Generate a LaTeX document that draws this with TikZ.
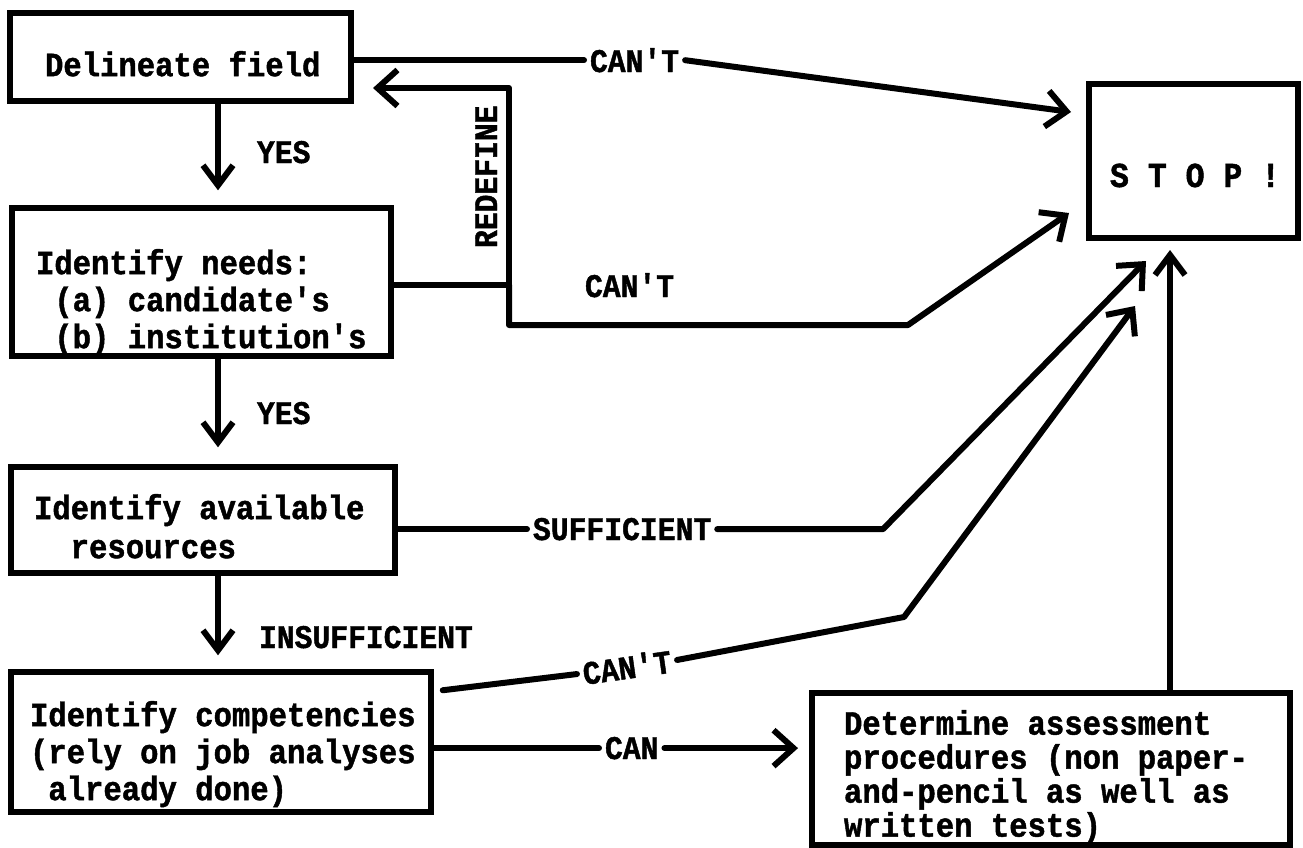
\documentclass[tikz,border=0pt]{standalone}
\usepackage{fontspec}
\newfontfamily\tw{Liberation Mono}[FakeStretch=0.9, BoldFeatures={FakeBold=1.3}]
\usetikzlibrary{arrows.meta,calc}
\begin{document}
\begin{tikzpicture}[x=1pt,y=-1pt,
  box/.style={draw, line width=5.5pt, rectangle, inner sep=0pt},
  txt/.style={inner sep=0pt, outer sep=0pt, anchor=north west, align=left,
    font=\tw\bfseries\fontsize{34}{37}\selectfont},
  lab/.style={inner sep=0pt, outer sep=0pt, anchor=base west,
    font=\tw\bfseries\fontsize{33}{36}\selectfont},
  clab/.style={lab, outer sep=6pt},
  conn/.style={line width=6pt, line cap=round, line join=round},
  arr/.style={conn, -{Straight Barb[length=20pt, width=36pt]}},
  varr/.style={conn, -{Straight Barb[length=20pt, width=30pt]}},
]
\useasboundingbox (0,0) rectangle (1303,847);

% boxes
\node[box, minimum width=341pt, minimum height=88pt]  (b1) at (180.5,57) {};
\node[box, minimum width=379pt, minimum height=148pt] (b2) at (201.5,282) {};
\node[box, minimum width=384pt, minimum height=106pt] (b3) at (203,520) {};
\node[box, minimum width=420pt, minimum height=140pt] (b4) at (221,742) {};
\node[box, minimum width=478pt, minimum height=152pt] (b5) at (1051,769) {};
\node[box, minimum width=209pt, minimum height=154pt] (stop) at (1193.5,161) {};

% box texts
\node[txt] (t1) at (45,51) {\rule{0pt}{24pt}Delineate field};
\node[txt] (t2) at (36,249) {\rule{0pt}{24pt}Identify needs:\\\hphantom{x}(a) candidate's\\\hphantom{x}(b) institution's};
\node[txt, font=\tw\bfseries\fontsize{34}{39}\selectfont] (t3) at (34,494) {\rule{0pt}{24pt}Identify available\\\hphantom{xx}resources};
\node[txt] (t4) at (30,701) {\rule{0pt}{24pt}Identify competencies\\(rely on job analyses\\\hphantom{x}already done)};
\node[txt, font=\tw\bfseries\fontsize{34}{34}\selectfont] (t5) at (844,710) {\rule{0pt}{24pt}Determine assessment\\procedures (non paper-\\and-pencil as well as\\written tests)};
\node[lab, font=\tw\bfseries\fontsize{35}{36}\selectfont] (tstop) at (1110,187) {S T O P !};

% labels
\node[lab] (yes1) at (257,163) {YES};
\node[lab] (yes2) at (257,424) {YES};
\node[lab] (insuf) at (259,648) {INSUFFICIENT};
\node[clab] (l1) at (584,72) {CAN'T};
\node[lab] (l2) at (585,297) {CAN'T};
\node[lab, rotate=90] (lred) at (497,248) {REDEFINE};
\node[clab] (l3) at (527,540) {SUFFICIENT};
\node[clab, anchor=center, rotate=8] (l4) at (627,667) {CAN'T};
\node[clab] (l5) at (599,759) {CAN};

% helper coordinates
\coordinate (colx) at (218,0);
\coordinate (s1) at (1071,112);
\coordinate (r1) at (373,88);
\coordinate (j1) at (509,285);
\coordinate (k2) at (908,325);
\coordinate (s2) at (1069,213);
\coordinate (k3) at (883,528);
\coordinate (s3) at (1146,261);
\coordinate (k4) at (904,617);
\coordinate (s4) at (1135,306);
\coordinate (t5c) at (798,0);
\coordinate (s6) at (1170,250);

% vertical flow
\draw[varr] (b1.south -| colx) -- ($(b2.north -| colx)+(0,-15)$);
\draw[varr] (b2.south -| colx) -- ($(b3.north -| colx)+(0,-17)$);
\draw[varr] (b3.south -| colx) -- ($(b4.north -| colx)+(0,-14)$);

% delineate -> stop
\draw[conn] (b1.east |- l1.west) -- (l1.west);
\draw[arr] (l1.east) -- (s1);

% needs -> redefine / stop
\draw[conn] (b2.east |- j1) -- (j1);
\draw[arr] (j1) |- (r1);
\draw[arr] (j1) |- (k2) -- (s2);

% resources -> stop
\draw[conn] (b3.east |- l3.west) -- (l3.west);
\draw[arr] (l3.east) -- (l3.east -| k3) -- (s3);

% competencies -> stop
\draw[conn] ($(b4.north east)+(9,21)$) -- (l4.west);
\draw[arr] (l4.east) -- (k4) -- (s4);

% competencies -> assessment
\draw[conn] (b4.east |- l5.west) -- (l5.west);
\draw[arr] (l5.east) -- (l5.east -| t5c);

% assessment -> stop
\draw[varr] (s6 |- b5.north) -- (s6);
\end{tikzpicture}
\end{document}
